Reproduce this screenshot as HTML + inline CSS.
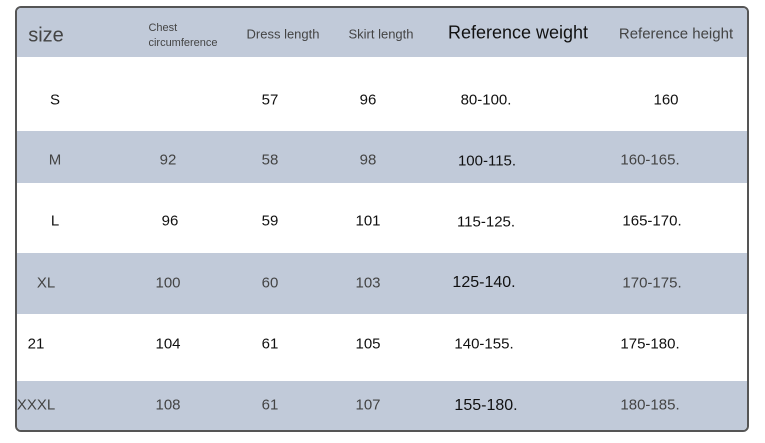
<!DOCTYPE html>
<html><head><meta charset="utf-8"><style>
body{margin:0;width:765px;height:443px;background:#fff;position:relative;overflow:hidden;font-family:"Liberation Sans","DejaVu Sans",sans-serif;color:#111}
.box{position:absolute;left:15px;top:6px;width:734px;height:426px;border:2px solid #555;border-radius:6px;overflow:hidden;box-sizing:border-box}
.b{position:absolute;left:0;width:100%;background:#c1cad9}
.t{position:absolute;transform:translate(-50%,-50%);white-space:nowrap;font-size:15px}
.g{color:#444}
</style></head><body>
<div class="box">
<div class="b" style="top:0;height:49px"></div>
<div class="b" style="top:123px;height:52px"></div>
<div class="b" style="top:245px;height:61px"></div>
<div class="b" style="top:373px;height:53px"></div>
</div>
<div class="t g" style="left:46px;top:36px;font-size:20px">size</div>
<div class="t g" style="left:183px;top:36px;font-size:11px;line-height:15px">Chest<br>circumference</div>
<div class="t g" style="left:283px;top:34px;font-size:13px">Dress length</div>
<div class="t g" style="left:381px;top:34px;font-size:13px">Skirt length</div>
<div class="t" style="left:518px;top:33px;font-size:18px">Reference weight</div>
<div class="t g" style="left:676px;top:34px;font-size:15px">Reference height</div>

<div class="t" style="left:55px;top:100px">S</div>
<div class="t" style="left:270px;top:100px">57</div>
<div class="t" style="left:368px;top:100px">96</div>
<div class="t" style="left:486px;top:100px">80-100.</div>
<div class="t" style="left:666px;top:100px">160</div>

<div class="t g" style="left:55px;top:160px">M</div>
<div class="t g" style="left:168px;top:160px">92</div>
<div class="t g" style="left:270px;top:160px">58</div>
<div class="t g" style="left:368px;top:160px">98</div>
<div class="t" style="left:487px;top:161px">100-115.</div>
<div class="t g" style="left:650px;top:160px">160-165.</div>

<div class="t" style="left:55px;top:221px">L</div>
<div class="t" style="left:170px;top:221px">96</div>
<div class="t" style="left:270px;top:221px">59</div>
<div class="t" style="left:368px;top:221px">101</div>
<div class="t" style="left:486px;top:222px">115-125.</div>
<div class="t" style="left:652px;top:221px">165-170.</div>

<div class="t g" style="left:46px;top:283px">XL</div>
<div class="t g" style="left:168px;top:283px">100</div>
<div class="t g" style="left:270px;top:283px">60</div>
<div class="t g" style="left:368px;top:283px">103</div>
<div class="t" style="left:484px;top:283px;font-size:16px">125-140.</div>
<div class="t g" style="left:652px;top:283px">170-175.</div>

<div class="t" style="left:36px;top:344px">21</div>
<div class="t" style="left:168px;top:344px">104</div>
<div class="t" style="left:270px;top:344px">61</div>
<div class="t" style="left:368px;top:344px">105</div>
<div class="t" style="left:484px;top:344px">140-155.</div>
<div class="t" style="left:650px;top:344px">175-180.</div>

<div class="t g" style="left:36px;top:405px">XXXL</div>
<div class="t g" style="left:168px;top:405px">108</div>
<div class="t g" style="left:270px;top:405px">61</div>
<div class="t g" style="left:368px;top:405px">107</div>
<div class="t" style="left:486px;top:406px;font-size:16px">155-180.</div>
<div class="t g" style="left:650px;top:405px">180-185.</div>
</body></html>
